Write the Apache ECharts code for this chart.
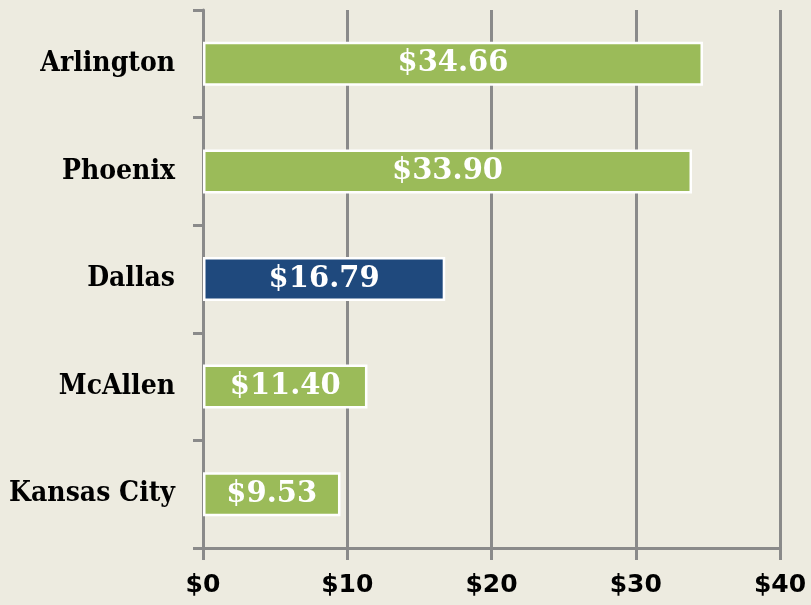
<!DOCTYPE html>
<html>
<head>
<meta charset="utf-8">
<script src="https://cdn.jsdelivr.net/npm/echarts@6/dist/echarts.min.js"></script>
<style>
    html, body { margin: 0; padding: 0; background: #edebe0; }
    #chart { width: 811px; height: 605px; }
</style>
</head>
<body>
<div id="chart"></div>
<script>
const cities = ['Arlington', 'Phoenix', 'Dallas', 'McAllen', 'Kansas City'];
const costs = [34.66, 33.90, 16.79, 11.40, 9.53];
const highlight = 'Dallas';
const xTicks = [0, 10, 20, 30, 40];

const chart = echarts.init(document.getElementById('chart'));

const option = {
    backgroundColor: '#edebe0',
    animation: false,
    grid: { left: 203, right: 31, top: 10, bottom: 57 },
    xAxis: {
        type: 'value',
        min: xTicks[0],
        max: xTicks[xTicks.length - 1],
        interval: 10,
        axisLine: { show: true, lineStyle: { color: '#8a8a8a', width: 3 } },
        axisTick: { show: true, length: 12, lineStyle: { color: '#8a8a8a', width: 3 } },
        splitLine: { show: true, lineStyle: { color: '#8a8a8a', width: 3 } },
        axisLabel: {
            formatter: v => '$' + v,
            color: '#000',
            fontFamily: 'DejaVu Sans',
            fontWeight: 'bold',
            fontSize: 25,
            margin: 25
        }
    },
    yAxis: {
        type: 'category',
        inverse: true,
        data: cities,
        axisLine: { show: true, lineStyle: { color: '#8a8a8a', width: 3 } },
        axisTick: { show: true, length: 10, lineStyle: { color: '#8a8a8a', width: 3 } },
        axisLabel: {
            color: '#000',
            fontFamily: "'DejaVu Serif Condensed', 'DejaVu Serif'",
            fontWeight: 'bold',
            fontSize: 28,
            margin: 28
        }
    },
    series: [{
        type: 'bar',
        data: costs.map((v, i) => ({
            value: v,
            itemStyle: { color: cities[i] === highlight ? '#1f497d' : '#9bbb59' }
        })),
        barWidth: 44,
        itemStyle: { borderColor: '#ffffff', borderWidth: 2.5 },
        label: {
            show: true,
            position: 'inside',
            formatter: p => '$' + p.value.toFixed(2),
            color: '#fff',
            fontFamily: 'DejaVu Serif',
            fontWeight: 'bold',
            fontSize: 29
        }
    }]
};

chart.setOption(option);
</script>
</body>
</html>
